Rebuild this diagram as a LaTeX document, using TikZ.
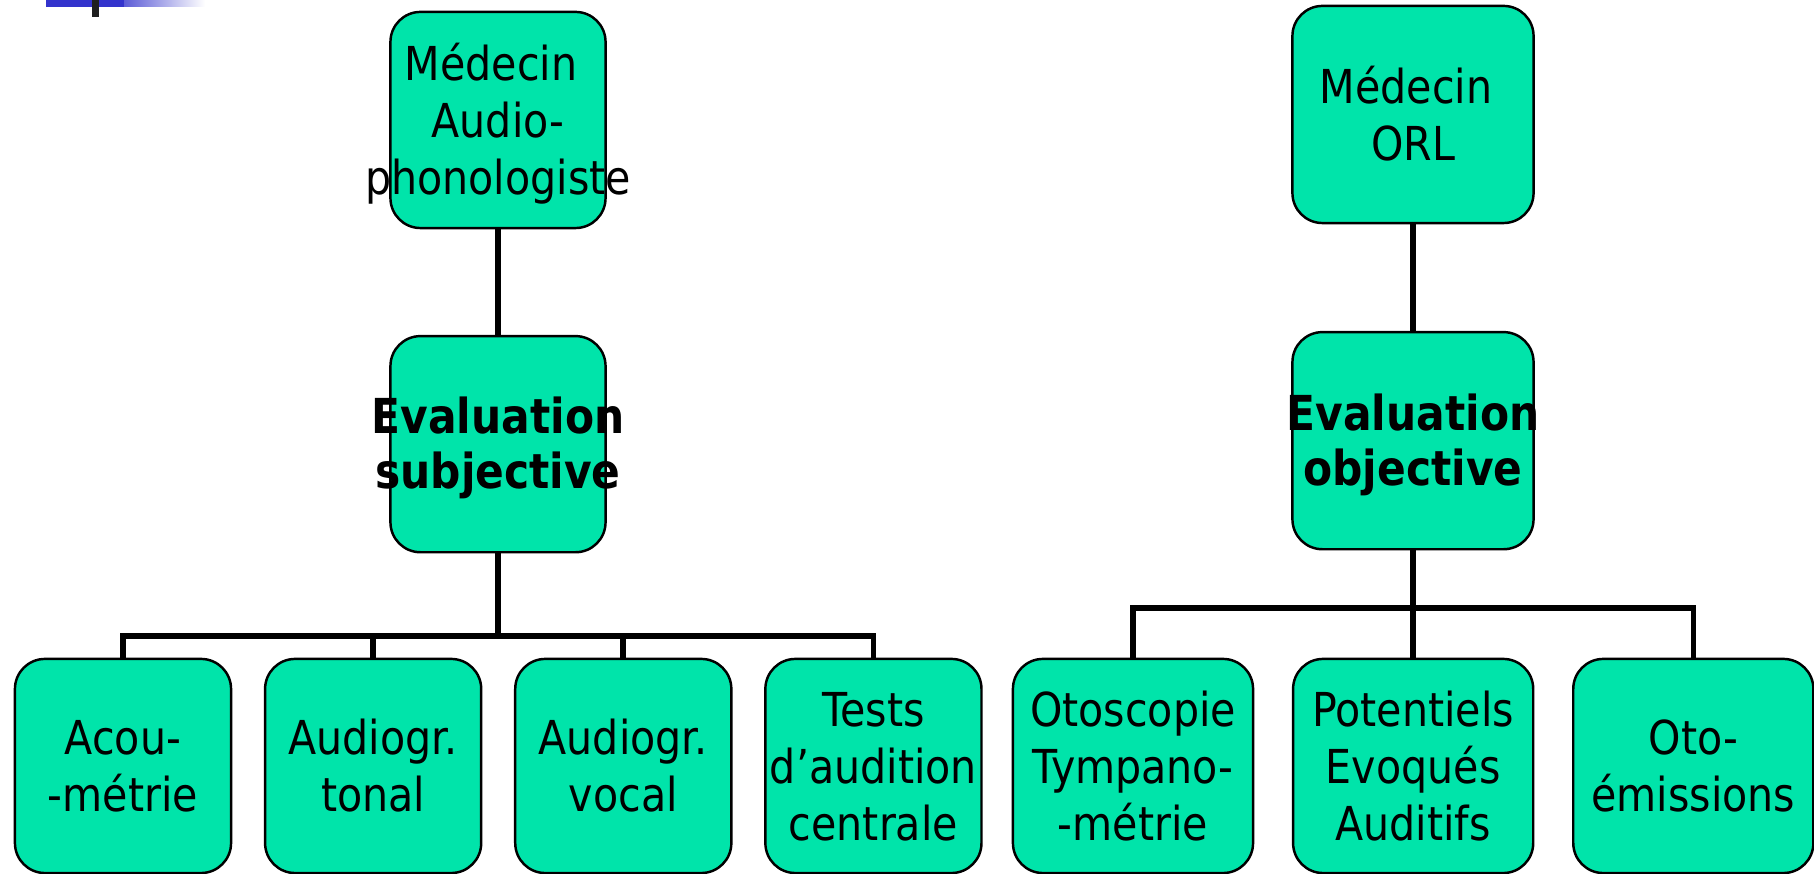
\documentclass[tikz,border=0pt]{standalone}
\usepackage{fontspec}
\setmainfont{DejaVu Sans}[FakeStretch=0.88]
\usepackage{tikz}
\usetikzlibrary{positioning}
\definecolor{boxgreen}{RGB}{0,228,170}
\definecolor{slideblue}{RGB}{51,51,204}
% text may run over the box edges, as in the slide
\newcommand{\boxtext}[1]{\makebox[0pt]{\raisebox{-1.7pt}[\height][\depth]{\begin{tabular}{@{}c@{}}#1\end{tabular}}}}

\begin{document}
\begin{tikzpicture}[
    x=0.01cm, y=-0.01cm,
    node distance=1.08cm and 0.34cm,
    mybox/.style={draw,rounded corners=0.3cm,fill=boxgreen,line width=0.7pt,
      align=center,outer sep=0pt,inner sep=0pt,
      font=\fontsize{13.3}{16.2}\selectfont,
      minimum width=2.15cm,minimum height=2.16cm},
    mybold/.style={mybox,font=\fontsize{13.7}{15.6}\selectfont\bfseries},
    myleaf/.style={mybox,minimum width=2.16cm,minimum height=2.14cm},
    mylink/.style={line width=1.6pt}
    ]

    \useasboundingbox (0,0) rectangle (1814,874);
    % slide decoration
    \fill[slideblue] (46,0) rectangle (124,7);
    \shade[left color=slideblue!80!white,right color=white] (124,0) rectangle (205,7);
    \fill[black!88] (92,0) rectangle (99,17);

    % left tree
    \node[mybox] (medaud) at (498,120) {\boxtext{M\'edecin\kern.3em\\Audio-\\phonologiste}};
    \node[mybold, below=of medaud] (subj) {\boxtext{Evaluation\\subjective}};
    \node[myleaf] (acou) at (123,766) {\boxtext{Acou-\\-m\'etrie}};
    \node[myleaf, right=of acou] (tonal) {\boxtext{Audiogr.\\tonal}};
    \node[myleaf, right=of tonal] (vocal) {\boxtext{Audiogr.\\vocal}};
    \node[myleaf, right=of vocal] (tests) {\boxtext{Tests\\d’audition\\centrale}};
    \coordinate (busl) at (498,636);

    % right tree
    \node[mybox, minimum width=2.41cm, minimum height=2.17cm] (medorl) at (1413,114.5) {\boxtext{M\'edecin\kern.3em\\ORL}};
    \node[mybold, minimum width=2.41cm, minimum height=2.17cm, below=1.09cm of medorl] (obj) {\boxtext{Evaluation\\objective}};
    \node[myleaf, minimum width=2.4cm] (oto) at (1133,766) {\boxtext{Otoscopie\\Tympano-\\-m\'etrie}};
    \node[myleaf, minimum width=2.4cm, right=0.4cm of oto] (pea) {\boxtext{Potentiels\\Evoqu\'es\\Auditifs}};
    \node[myleaf, minimum width=2.4cm, right=0.4cm of pea] (oae) {\boxtext{Oto-\\\'emissions}};
    \coordinate (busr) at (1413,608);

    \draw[mylink] (medaud) -- (subj);
    \draw[mylink] (subj) -- (busl);
    \foreach \n in {acou,tonal,vocal,tests}
      \draw[mylink] (\n.north) |- (busl);
    \draw[mylink] (medorl) -- (obj);
    \draw[mylink] (obj) -- (busr);
    \foreach \n in {oto,pea,oae}
      \draw[mylink] (\n.north) |- (busr);

  \end{tikzpicture}
\end{document}
